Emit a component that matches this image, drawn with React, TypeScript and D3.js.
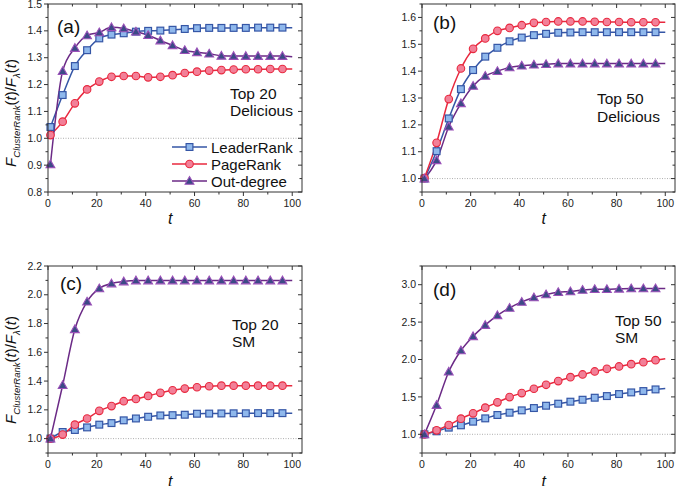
import React from 'react';
import * as d3 from 'd3';

// ---------- data ----------
const T = [1, 6, 11, 16, 21, 26, 31, 36, 41, 46, 51, 56, 61, 66, 71, 76, 81, 86, 91, 96, 100];
const SERIES_NAMES = ['LeaderRank', 'PageRank', 'Out-degree'];
const X_TICKS = [0, 20, 40, 60, 80, 100];

// (a) Top 20 Delicious
const A_LEADER = [1.042, 1.161, 1.269, 1.328, 1.372, 1.386, 1.391, 1.397, 1.400, 1.401, 1.404, 1.407, 1.410, 1.411, 1.411, 1.411, 1.411, 1.412, 1.412, 1.412, 1.412];
const A_PAGE = [1.012, 1.062, 1.130, 1.182, 1.211, 1.229, 1.232, 1.232, 1.227, 1.229, 1.235, 1.243, 1.248, 1.252, 1.254, 1.256, 1.257, 1.257, 1.258, 1.258, 1.258];
const A_OUT = [0.903, 1.250, 1.336, 1.383, 1.394, 1.413, 1.409, 1.397, 1.384, 1.364, 1.346, 1.328, 1.320, 1.315, 1.307, 1.306, 1.306, 1.306, 1.306, 1.306, 1.304];

// (b) Top 50 Delicious
const B_LEADER = [1.000, 1.102, 1.224, 1.333, 1.404, 1.454, 1.487, 1.511, 1.525, 1.534, 1.539, 1.543, 1.544, 1.545, 1.545, 1.545, 1.545, 1.545, 1.545, 1.545, 1.545];
const B_PAGE = [1.002, 1.133, 1.296, 1.410, 1.483, 1.522, 1.550, 1.561, 1.571, 1.580, 1.583, 1.585, 1.585, 1.585, 1.584, 1.583, 1.583, 1.582, 1.582, 1.582, 1.582];
const B_OUT = [1.000, 1.068, 1.193, 1.280, 1.345, 1.382, 1.400, 1.414, 1.420, 1.424, 1.426, 1.428, 1.428, 1.428, 1.428, 1.428, 1.428, 1.428, 1.428, 1.428, 1.428];

// (c) Top 20 SM
const C_LEADER = [1.000, 1.046, 1.060, 1.078, 1.097, 1.108, 1.127, 1.140, 1.152, 1.161, 1.163, 1.166, 1.173, 1.174, 1.175, 1.176, 1.176, 1.177, 1.177, 1.177, 1.177];
const C_PAGE = [1.000, 1.028, 1.097, 1.140, 1.193, 1.226, 1.260, 1.276, 1.297, 1.318, 1.336, 1.348, 1.357, 1.364, 1.368, 1.368, 1.368, 1.368, 1.368, 1.368, 1.368];
const C_OUT = [1.000, 1.371, 1.760, 1.952, 2.044, 2.078, 2.092, 2.099, 2.099, 2.099, 2.099, 2.099, 2.099, 2.099, 2.099, 2.099, 2.099, 2.099, 2.099, 2.099, 2.099];

// (d) Top 50 SM
const D_LEADER = [1.000, 1.040, 1.089, 1.120, 1.169, 1.213, 1.258, 1.289, 1.320, 1.351, 1.382, 1.409, 1.436, 1.462, 1.489, 1.511, 1.538, 1.560, 1.578, 1.600, 1.613];
const D_PAGE = [1.000, 1.053, 1.124, 1.209, 1.280, 1.356, 1.427, 1.498, 1.551, 1.609, 1.662, 1.711, 1.764, 1.800, 1.840, 1.876, 1.907, 1.938, 1.964, 1.991, 2.010];
const D_OUT = [1.000, 1.391, 1.836, 2.120, 2.310, 2.460, 2.590, 2.690, 2.770, 2.830, 2.870, 2.900, 2.910, 2.930, 2.940, 2.940, 2.945, 2.950, 2.950, 2.950, 2.950];

// ---------- styles ----------
const LINE_COLORS = ['#3556a6', '#e8283e', '#6b2a86'];
const FILL_COLORS = ['#8fb8ec', '#f28098', '#3c4a86'];
const STROKE_COLORS = ['#3556a6', '#e8283e', '#9a50b8'];
const FONT = 'Liberation Sans, Arial, sans-serif';

type PanelCfg = {
  label: string;
  lines: string[];
  left: number; top: number; width: number; height: number;
  yDomain: [number, number];
  yMajor: number[];
  yMinor: number[];
  yFmt: (v: number) => string;
  series: number[][];
  labelPos: [number, number];
  textPos: [number, number];
  textGap: number;
  legend?: boolean;
  yTitle?: [number, number];
  xTitleY: number;
};

function range(a: number, b: number, s: number) {
  const out: number[] = [];
  for (let v = a; v <= b + 1e-9; v += s) out.push(+v.toFixed(4));
  return out;
}

function Marker({ kind, x, y }: { kind: number; x: number; y: number }) {
  if (kind === 0) {
    return <rect x={x - 3.4} y={y - 3.4} width={6.8} height={6.8} fill={FILL_COLORS[0]} stroke={STROKE_COLORS[0]} strokeWidth={1.2} />;
  }
  if (kind === 1) {
    return <circle cx={x} cy={y} r={3.8} fill={FILL_COLORS[1]} stroke={STROKE_COLORS[1]} strokeWidth={1.1} />;
  }
  const s = 4.4;
  return <path d={`M${x},${y - s}L${x + s},${y + s * 0.75}L${x - s},${y + s * 0.75}Z`} fill={FILL_COLORS[2]} stroke={STROKE_COLORS[2]} strokeWidth={1.1} />;
}

function Panel({ cfg }: { cfg: PanelCfg }) {
  const { left, top, width, height } = cfg;
  const x = d3.scaleLinear().domain([0, 104]).range([left, left + width]);
  const y = d3.scaleLinear().domain(cfg.yDomain).range([top + height, top]);
  const line = d3.line<number>().x((_, i) => x(T[i])).y(d => y(d)).curve(d3.curveMonotoneX);
  const xMinor = range(10, 100, 20);
  const axisColor = '#333';
  return (
    <g>
      <line x1={left} x2={left + width} y1={y(1)} y2={y(1)} stroke="#999" strokeWidth={0.8} strokeDasharray="1,1.5" />
      {cfg.series.map((s, k) => (
        <path key={'l' + k} d={line(s) || ''} fill="none" stroke={LINE_COLORS[k]} strokeWidth={1.5} />
      ))}
      {cfg.series.map((s, k) => (
        <g key={'m' + k}>
          {s.map((v, i) => (T[i] < 100 ? <Marker key={i} kind={k} x={x(T[i])} y={y(v)} /> : null))}
        </g>
      ))}
      <rect x={left} y={top} width={width} height={height} fill="none" stroke={axisColor} strokeWidth={1} />
      {X_TICKS.map(t => (
        <g key={'xt' + t}>
          <line x1={x(t)} x2={x(t)} y1={top + height} y2={top + height + 4} stroke={axisColor} />
          <line x1={x(t)} x2={x(t)} y1={top} y2={top + 4} stroke={axisColor} />
          <text x={x(t)} y={top + height + 15} textAnchor="middle" fontSize={10.5} fontFamily={FONT} fill="#222">{t}</text>
        </g>
      ))}
      {xMinor.map(t => (
        <g key={'xm' + t}>
          <line x1={x(t)} x2={x(t)} y1={top + height} y2={top + height + 2.5} stroke={axisColor} />
          <line x1={x(t)} x2={x(t)} y1={top} y2={top + 2.5} stroke={axisColor} />
        </g>
      ))}
      {cfg.yMajor.map(v => (
        <g key={'yt' + v}>
          <line x1={left - 4} x2={left} y1={y(v)} y2={y(v)} stroke={axisColor} />
          <line x1={left + width - 4} x2={left + width} y1={y(v)} y2={y(v)} stroke={axisColor} />
          <text x={left - 6} y={y(v) + 3.6} textAnchor="end" fontSize={10.5} fontFamily={FONT} fill="#222">{cfg.yFmt(v)}</text>
        </g>
      ))}
      {cfg.yMinor.map(v => (
        <g key={'ym' + v}>
          <line x1={left - 2.5} x2={left} y1={y(v)} y2={y(v)} stroke={axisColor} />
          <line x1={left + width - 2.5} x2={left + width} y1={y(v)} y2={y(v)} stroke={axisColor} />
        </g>
      ))}
      <text x={left + cfg.labelPos[0]} y={top + cfg.labelPos[1]} fontSize={19} fontFamily={FONT} fill="#111">{cfg.label}</text>
      {cfg.lines.map((s, i) => (
        <text key={'tx' + i} x={left + cfg.textPos[0]} y={top + cfg.textPos[1] + i * cfg.textGap} fontSize={15.5} fontFamily={FONT} fill="#111">{s}</text>
      ))}
      <text x={x(50)} y={cfg.xTitleY} textAnchor="middle" fontSize={16} fontStyle="italic" fontFamily={FONT} fill="#111">t</text>
      {cfg.yTitle ? (
        <text transform={`translate(${cfg.yTitle[0]},${cfg.yTitle[1]}) rotate(-90)`} textAnchor="middle" fontFamily={FONT} fill="#111" fontStyle="italic">
          <tspan fontSize={15}>F</tspan>
          <tspan fontSize={9.5} dy={4}>ClusterRank</tspan>
          <tspan fontSize={15} dy={-4} fontStyle="normal">(</tspan>
          <tspan fontSize={15}>t</tspan>
          <tspan fontSize={15} fontStyle="normal">)/</tspan>
          <tspan fontSize={15}>F</tspan>
          <tspan fontSize={9.5} dy={4}>λ</tspan>
          <tspan fontSize={15} dy={-4} fontStyle="normal">(</tspan>
          <tspan fontSize={15}>t</tspan>
          <tspan fontSize={15} fontStyle="normal">)</tspan>
        </text>
      ) : null}
      {cfg.legend ? (
        <g>
          {SERIES_NAMES.map((n, k) => {
            const ly = 147 + k * 17;
            return (
              <g key={n}>
                <line x1={172} x2={207} y1={ly} y2={ly} stroke={LINE_COLORS[k]} strokeWidth={1.5} />
                <Marker kind={k} x={189.5} y={ly} />
                <text x={211} y={ly + 5.5} fontSize={15} fontFamily={FONT} fill="#111">{n}</text>
              </g>
            );
          })}
        </g>
      ) : null}
    </g>
  );
}

const f1 = (v: number) => v.toFixed(1);

const PANELS: PanelCfg[] = [
  {
    label: '(a)', lines: ['Top 20', 'Delicious'],
    left: 48, top: 4, width: 254, height: 188,
    yDomain: [0.8, 1.5], yMajor: range(0.8, 1.5, 0.1), yMinor: range(0.85, 1.45, 0.1), yFmt: f1,
    series: [A_LEADER, A_PAGE, A_OUT],
    labelPos: [9, 29], textPos: [182, 95], textGap: 16.5, legend: true, yTitle: [16, 113], xTitleY: 224,
  },
  {
    label: '(b)', lines: ['Top 50', 'Delicious'],
    left: 422, top: 4, width: 253, height: 188,
    yDomain: [0.95, 1.65], yMajor: range(1.0, 1.6, 0.1), yMinor: range(0.95, 1.65, 0.1), yFmt: f1,
    series: [B_LEADER, B_PAGE, B_OUT],
    labelPos: [11, 25], textPos: [175, 100], textGap: 18, xTitleY: 224,
  },
  {
    label: '(c)', lines: ['Top 20', 'SM'],
    left: 48, top: 266, width: 254, height: 187,
    yDomain: [0.9, 2.2], yMajor: range(1.0, 2.2, 0.2), yMinor: range(0.9, 2.1, 0.2), yFmt: f1,
    series: [C_LEADER, C_PAGE, C_OUT],
    labelPos: [12, 24], textPos: [184, 64], textGap: 17, yTitle: [16, 370], xTitleY: 487,
  },
  {
    label: '(d)', lines: ['Top 50', 'SM'],
    left: 422, top: 266, width: 253, height: 187,
    yDomain: [0.75, 3.25], yMajor: range(1.0, 3.0, 0.5), yMinor: range(0.75, 3.25, 0.5), yFmt: f1,
    series: [D_LEADER, D_PAGE, D_OUT],
    labelPos: [11, 30], textPos: [193, 60], textGap: 16.5, xTitleY: 487,
  },
];

export default function App() {
  return (
    <svg width={680} height={486} style={{ position: 'absolute', left: 0, top: 0, background: '#fff' }}>
      <rect width={680} height={486} fill="#fff" />
      {PANELS.map(p => <Panel key={p.label} cfg={p} />)}
    </svg>
  );
}
